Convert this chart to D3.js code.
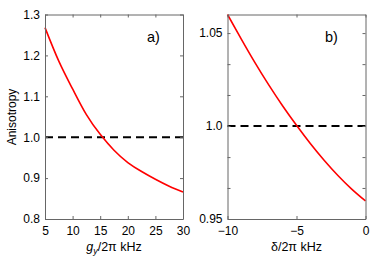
<!DOCTYPE html>
<html>
<head>
<meta charset="utf-8">
<script src="https://cdn.jsdelivr.net/npm/d3@7"></script>
<style>
  body { margin: 0; background: #fff; }
  svg { display: block; font-family: "Liberation Sans", Arial, Helvetica, sans-serif; }
  .axis path, .axis line { stroke: #666; }
  .axis text { fill: #000; font-size: 12px; }
</style>
</head>
<body>
<div id="chart"></div>
<script>
// panel a) anisotropy vs g_y/2pi (kHz)
const gy = [5, 7.5, 10, 12.5, 15, 17.5, 20, 22.5, 25, 27.5, 30];
const anisoA = [1.268, 1.186, 1.118, 1.055, 1.007, 0.968, 0.938, 0.916, 0.897, 0.88, 0.866];
const xTicksA = [5, 10, 15, 20, 25, 30];
const yTicksA = [0.8, 0.9, 1.0, 1.1, 1.2, 1.3];

// panel b) anisotropy vs delta/2pi (kHz)
const delta = [-10, -9, -8, -7, -6, -5, -4, -3, -2, -1, 0];
const anisoB = [1.06, 1.0468, 1.034, 1.022, 1.0108, 1.0004, 0.9906, 0.9816, 0.9734, 0.9661, 0.9597];
const xTicksB = [-10, -5, 0];
const yTicksB = [0.95, 0.9667, 0.9833, 1.0, 1.0167, 1.0333, 1.05];
const yLabelsB = ['0.95', '', '', '1.0', '', '', '1.05'];

const width = 374, height = 260;
const plotTop = 14.5, plotBottom = 219;

const svg = d3.select('#chart').append('svg')
  .attr('width', width)
  .attr('height', height);

function panel(opts) {
  const x = d3.scaleLinear().domain(opts.xDomain).range([opts.left, opts.right]);
  const y = d3.scaleLinear().domain(opts.yDomain).range([plotBottom, plotTop]);
  const g = svg.append('g');

  // reference line at 1
  g.append('line')
    .attr('x1', x.range()[0]).attr('x2', x.range()[1])
    .attr('y1', y(1)).attr('y2', y(1))
    .attr('stroke', '#000')
    .attr('stroke-width', 2)
    .attr('stroke-dasharray', '8,5');

  // curve
  g.append('path')
    .datum(opts.xs.map((v, i) => [v, opts.ys[i]]))
    .attr('fill', 'none')
    .attr('stroke', '#ff0000')
    .attr('stroke-width', 1.6)
    .attr('d', d3.line().x(d => x(d[0])).y(d => y(d[1])).curve(d3.curveNatural));

  // axes, ticks pointing inward on all four sides
  g.append('g').attr('class', 'axis')
    .attr('transform', `translate(0,${plotBottom})`)
    .call(d3.axisBottom(x).tickValues(opts.xTicks).tickSize(-3).tickSizeOuter(0).tickPadding(7));
  g.append('g').attr('class', 'axis')
    .attr('transform', `translate(0,${plotTop})`)
    .call(d3.axisTop(x).tickValues(opts.xTicks).tickSize(-3).tickSizeOuter(0).tickFormat(''));
  g.append('g').attr('class', 'axis')
    .attr('transform', `translate(${opts.left},0)`)
    .call(d3.axisLeft(y).tickValues(opts.yTicks).tickSize(-3).tickSizeOuter(0).tickPadding(5)
      .tickFormat(opts.yFormat));
  g.append('g').attr('class', 'axis')
    .attr('transform', `translate(${opts.right},0)`)
    .call(d3.axisRight(y).tickValues(opts.yTicks).tickSize(-3).tickSizeOuter(0).tickFormat(''));

  g.append('text')
    .attr('x', opts.tagX).attr('y', 42)
    .attr('font-size', 14.5)
    .text(opts.tag);

  return { x, y, g };
}

const a = panel({
  left: 45, right: 183,
  xDomain: [5, 30], yDomain: [0.8, 1.3],
  xs: gy, ys: anisoA,
  xTicks: xTicksA, yTicks: yTicksA,
  yFormat: d3.format('.1f'),
  tag: 'a)', tagX: 147
});

const b = panel({
  left: 227.5, right: 365.5,
  xDomain: [-10, 0], yDomain: [0.95, 1.06],
  xs: delta, ys: anisoB,
  xTicks: xTicksB, yTicks: yTicksB,
  yFormat: (d, i) => yLabelsB[i],
  tag: 'b)', tagX: 325
});

// axis titles
svg.append('text')
  .attr('transform', 'translate(16,117) rotate(-90)')
  .attr('text-anchor', 'middle')
  .attr('font-size', 12)
  .text('Anisotropy');

const tA = svg.append('text')
  .attr('x', 114).attr('y', 251)
  .attr('text-anchor', 'middle')
  .attr('font-size', 12.5);
tA.append('tspan').attr('font-style', 'italic').text('g');
tA.append('tspan').attr('font-style', 'italic').attr('font-size', 9).attr('dy', 3).text('y');
tA.append('tspan').attr('dy', -3).text('/2π kHz');

svg.append('text')
  .attr('x', 296.5).attr('y', 251)
  .attr('text-anchor', 'middle')
  .attr('font-size', 12.5)
  .text('δ/2π kHz');
</script>
</body>
</html>
